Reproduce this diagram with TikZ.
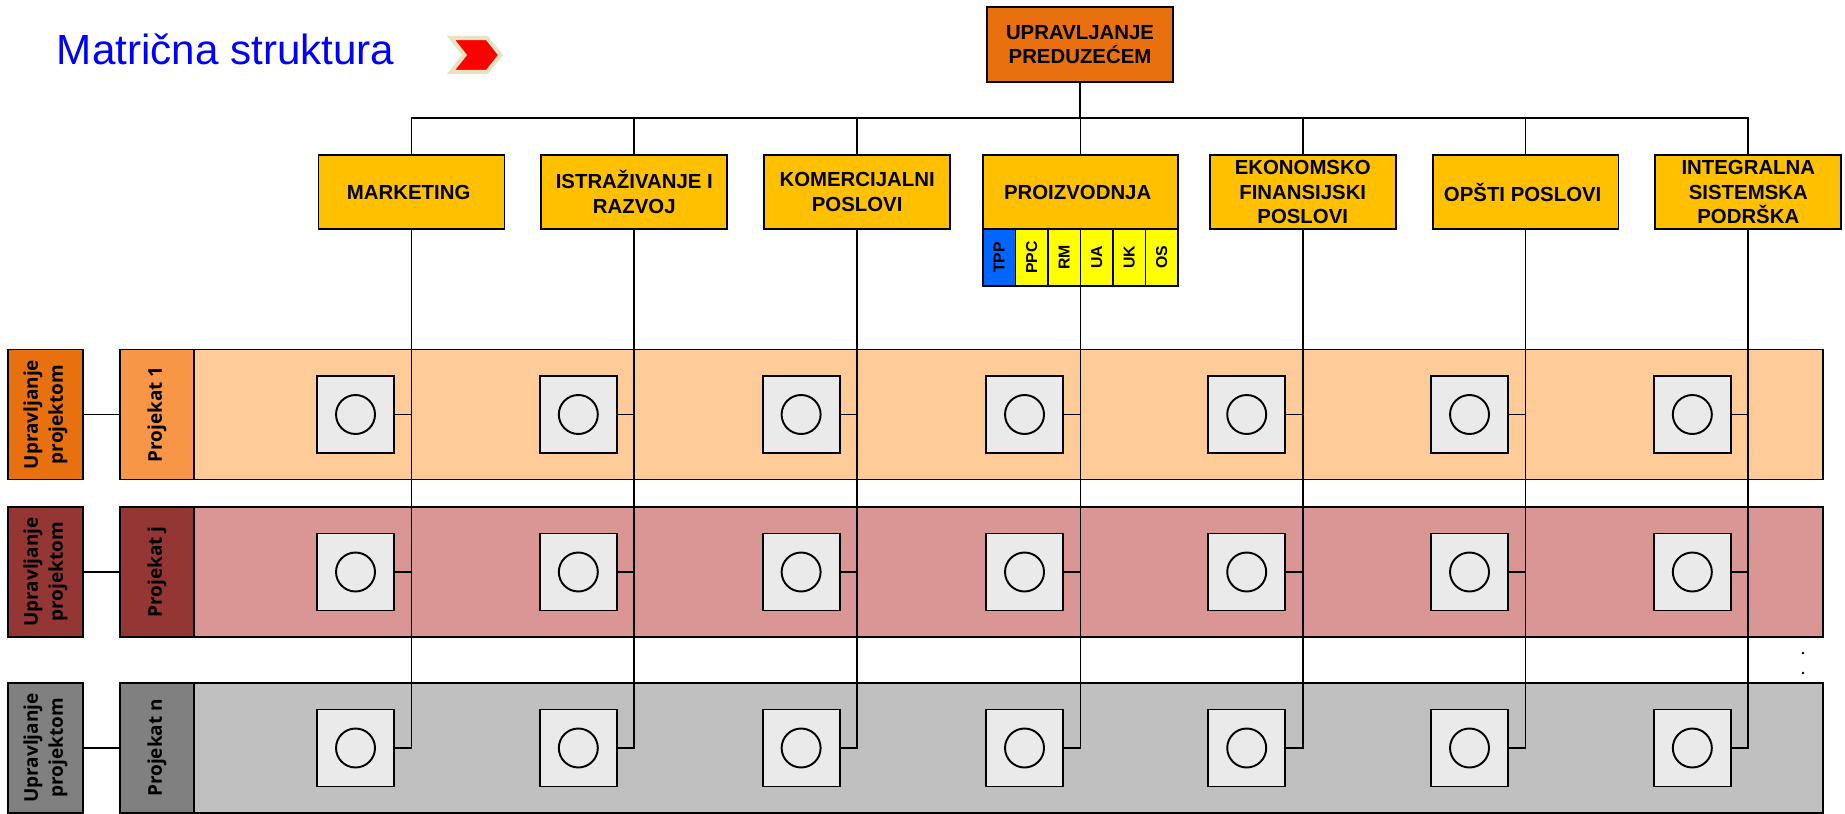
\documentclass[tikz,border=0pt]{standalone}
\usepackage{fontspec}
\setmainfont{Liberation Sans}
\newfontfamily\opensans{Open Sans}
\usepackage{tikz}
\usetikzlibrary{positioning}

\definecolor{naslovplava}{HTML}{0000FF}
\definecolor{uprava}{HTML}{E8700F}
\definecolor{zuta}{HTML}{FFC000}
\definecolor{zutasvetla}{HTML}{FFFF00}
\definecolor{plava}{HTML}{0066FF}
\definecolor{projnar}{HTML}{F79646}
\definecolor{traknar}{HTML}{FFCC99}
\definecolor{projcrv}{HTML}{943634}
\definecolor{trakcrv}{HTML}{D99694}
\definecolor{projsiva}{HTML}{808080}
\definecolor{traksiva}{HTML}{C0C0C0}
\definecolor{kvsiva}{HTML}{EAEAEA}
\definecolor{strelcrv}{HTML}{FF0000}
\definecolor{strelbez}{HTML}{EAE2C0}

\begin{document}
\begin{tikzpicture}[x=0.02cm,y=-0.02cm,line width=1.1pt,
    font=\fontsize{11.6}{13.9}\selectfont\bfseries,
    odeljenje/.style={draw, fill=zuta, minimum width=3.72cm,
        minimum height=1.48cm, inner sep=1pt, outer sep=0pt, align=center},
    podblok/.style={draw, minimum width=0.65cm, minimum height=1.14cm,
        inner sep=0pt, outer sep=0pt,
        font=\fontsize{9}{10}\selectfont\bfseries},
    vodja/.style={draw, rotate=90, minimum width=2.6cm, minimum height=1.5cm,
        inner sep=1pt, outer sep=0pt, align=center,
        font=\opensans\fontsize{10.8}{14.2}\selectfont\bfseries},
    projekat/.style={draw, rotate=90, minimum width=2.6cm, minimum height=1.48cm,
        inner sep=1pt, outer sep=0pt,
        font=\opensans\fontsize{10.8}{14.2}\selectfont\bfseries},
    traka/.style={draw, minimum width=32.58cm, minimum height=2.6cm,
        inner sep=0pt, outer sep=0pt},
    kvadrat/.style={draw, fill=kvsiva, minimum size=1.54cm, inner sep=0pt,
        outer sep=0pt,
        path picture={\draw[line width=1.1pt] (path picture bounding box.center) circle (0.39cm);}}
]

\useasboundingbox (0,0) rectangle (1845,814);

% naslov
\node[anchor=base west,
    inner sep=0pt,
    text=naslovplava,
    font=\fontsize{24}{29}\selectfont
] (naslov) at (56,65) {Matrična struktura};

\filldraw[fill=strelcrv, draw=strelbez, line width=2.3pt, line join=miter]
    (451,38) -- (487,38) -- (500.5,55) -- (487,72) -- (451,72) -- (464.5,55) -- cycle;

% vrh
\node[draw,
    fill=uprava,
    minimum width=3.72cm,
    minimum height=1.5cm,
    inner sep=1pt,
    outer sep=0pt,
    align=center
] (vrh) at (1080,44.5) { UPRAVLJANJE\\PREDUZEĆEM };

\coordinate (sabirnica) at (1080,118);

% odeljenja
\node[odeljenje] (marketing) at (411.5,192) { MARKETING };
\node[odeljenje] (razvoj) at (634.3,192) { ISTRAŽIVANJE I\\RAZVOJ };
\node[odeljenje] (komercijala) at (857.1,192) { KOMERCIJALNI\\POSLOVI };
\node[odeljenje,
    minimum width=3.9cm
] (proizvodnja) at (1080.5,192) { PROIZVODNJA };
\node[odeljenje] (ekonomija) at (1302.7,192) { EKONOMSKO\\FINANSIJSKI\\POSLOVI };
\node[odeljenje] (opsti) at (1525.5,192) { OPŠTI POSLOVI };
\node[odeljenje] (podrska) at (1748.3,192) { INTEGRALNA\\SISTEMSKA\\PODRŠKA };

% podblokovi proizvodnje
\node[podblok, fill=plava,
    below right=0pt and 0pt of proizvodnja.south west
] (tpp) { \rotatebox{90}{TPP} };
\node[podblok, fill=zutasvetla, right=0pt of tpp] (ppc) { \rotatebox{90}{PPC} };
\node[podblok, fill=zutasvetla, right=0pt of ppc] (rm) { \rotatebox{90}{RM} };
\node[podblok, fill=zutasvetla, right=0pt of rm] (ua) { \rotatebox{90}{UA} };
\node[podblok, fill=zutasvetla, right=0pt of ua] (uk) { \rotatebox{90}{UK} };
\node[podblok, fill=zutasvetla, right=0pt of uk] (os) { \rotatebox{90}{OS} };

% projekti
\node[traka, fill=traknar] (traka1) at (1008.5,414.5) {};
\node[traka, fill=trakcrv] (traka2) at (1008.5,572) {};
\node[traka, fill=traksiva] (traka3) at (1008.5,748) {};

\node[vodja, fill=uprava] (vodja1) at (45.5,414.5) { Upravljanje\\projektom };
\node[vodja, fill=projcrv] (vodja2) at (45.5,572) { Upravljanje\\projektom };
\node[vodja, fill=projsiva] (vodja3) at (45.5,748) { Upravljanje\\projektom };

\node[projekat, fill=projnar] (projekat1) at (157,414.5) { Projekat 1 };
\node[projekat, fill=projcrv] (projekat2) at (157,572) { Projekat j };
\node[projekat, fill=projsiva] (projekat3) at (157,748) { Projekat n };

% kvadrati
\node[kvadrat, xshift=-1.12cm] (kv11) at (marketing |- traka1) {};
\node[kvadrat, xshift=-1.12cm] (kv12) at (razvoj |- traka1) {};
\node[kvadrat, xshift=-1.12cm] (kv13) at (komercijala |- traka1) {};
\node[kvadrat, xshift=-1.12cm] (kv14) at (proizvodnja |- traka1) {};
\node[kvadrat, xshift=-1.12cm] (kv15) at (ekonomija |- traka1) {};
\node[kvadrat, xshift=-1.12cm] (kv16) at (opsti |- traka1) {};
\node[kvadrat, xshift=-1.12cm] (kv17) at (podrska |- traka1) {};

\node[kvadrat, xshift=-1.12cm] (kv21) at (marketing |- traka2) {};
\node[kvadrat, xshift=-1.12cm] (kv22) at (razvoj |- traka2) {};
\node[kvadrat, xshift=-1.12cm] (kv23) at (komercijala |- traka2) {};
\node[kvadrat, xshift=-1.12cm] (kv24) at (proizvodnja |- traka2) {};
\node[kvadrat, xshift=-1.12cm] (kv25) at (ekonomija |- traka2) {};
\node[kvadrat, xshift=-1.12cm] (kv26) at (opsti |- traka2) {};
\node[kvadrat, xshift=-1.12cm] (kv27) at (podrska |- traka2) {};

\node[kvadrat, xshift=-1.12cm] (kv31) at (marketing |- traka3) {};
\node[kvadrat, xshift=-1.12cm] (kv32) at (razvoj |- traka3) {};
\node[kvadrat, xshift=-1.12cm] (kv33) at (komercijala |- traka3) {};
\node[kvadrat, xshift=-1.12cm] (kv34) at (proizvodnja |- traka3) {};
\node[kvadrat, xshift=-1.12cm] (kv35) at (ekonomija |- traka3) {};
\node[kvadrat, xshift=-1.12cm] (kv36) at (opsti |- traka3) {};
\node[kvadrat, xshift=-1.12cm] (kv37) at (podrska |- traka3) {};

% veze gore
\draw (vrh.south) -- (vrh |- sabirnica);
\draw (marketing.north) |- (sabirnica) -| (podrska.north);
\draw (razvoj.north) -- (razvoj |- sabirnica);
\draw (komercijala.north) -- (komercijala |- sabirnica);
\draw (proizvodnja.north) -- (proizvodnja |- sabirnica);
\draw (ekonomija.north) -- (ekonomija |- sabirnica);
\draw (opsti.north) -- (opsti |- sabirnica);

% vertikale
\draw (marketing.south) |- (kv31.east);
\draw (razvoj.south) |- (kv32.east);
\draw (komercijala.south) |- (kv33.east);
\draw (rm.south east) |- (kv34.east);
\draw (ekonomija.south) |- (kv35.east);
\draw (opsti.south) |- (kv36.east);
\draw (podrska.south) |- (kv37.east);

\draw (kv11.east) -- (kv11.east -| marketing);
\draw (kv12.east) -- (kv12.east -| razvoj);
\draw (kv13.east) -- (kv13.east -| komercijala);
\draw (kv14.east) -- (kv14.east -| rm.south east);
\draw (kv15.east) -- (kv15.east -| ekonomija);
\draw (kv16.east) -- (kv16.east -| opsti);
\draw (kv17.east) -- (kv17.east -| podrska);

\draw (kv21.east) -- (kv21.east -| marketing);
\draw (kv22.east) -- (kv22.east -| razvoj);
\draw (kv23.east) -- (kv23.east -| komercijala);
\draw (kv24.east) -- (kv24.east -| rm.south east);
\draw (kv25.east) -- (kv25.east -| ekonomija);
\draw (kv26.east) -- (kv26.east -| opsti);
\draw (kv27.east) -- (kv27.east -| podrska);

% vodja - projekat
\draw (vodja1) -- (projekat1);
\draw (vodja2) -- (projekat2);
\draw (vodja3) -- (projekat3);

% tacke
\fill (1803,653) circle (0.8pt);
\fill (1803,673) circle (0.8pt);

\end{tikzpicture}
\end{document}
